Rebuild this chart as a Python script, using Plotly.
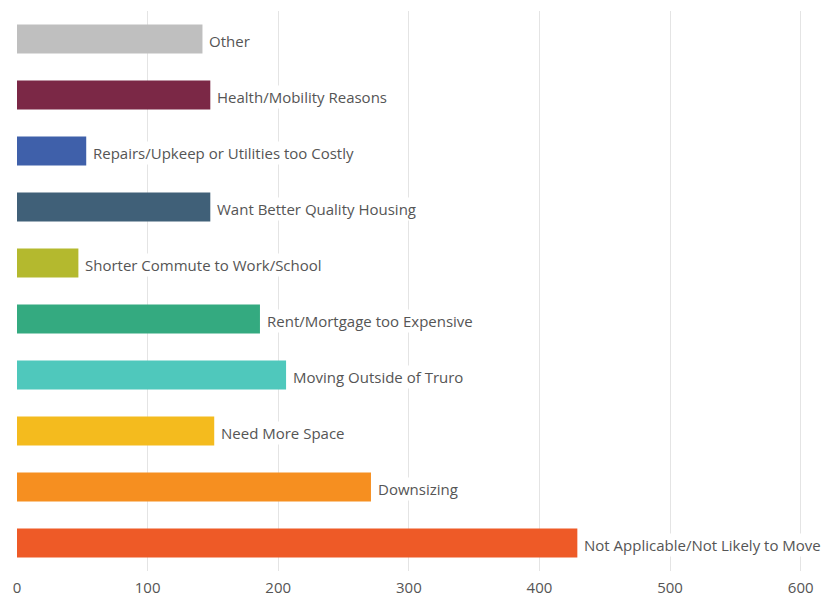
import plotly.graph_objects as go

categories = [
    "Not Applicable/Not Likely to Move",
    "Downsizing",
    "Need More Space",
    "Moving Outside of Truro",
    "Rent/Mortgage too Expensive",
    "Shorter Commute to Work/School",
    "Want Better Quality Housing",
    "Repairs/Upkeep or Utilities too Costly",
    "Health/Mobility Reasons",
    "Other",
]
values = [429, 271, 151, 206, 186, 47, 148, 53, 148, 142]
colors = [
    "#ee5a27", "#f68f20", "#f4bb1e", "#4fc8bc", "#34aa80",
    "#b4b92e", "#406078", "#3f60aa", "#7b2846", "#bfbfbf",
]
x_ticks = [0, 100, 200, 300, 400, 500, 600]

fig = go.Figure()
fig.add_trace(go.Bar(
    y=categories, x=values, orientation="h",
    marker=dict(color=colors, line=dict(width=0)),
    hoverinfo="x+y",
))

for c, v in zip(categories, values):
    fig.add_annotation(
        x=v, y=c, text=c, showarrow=False, xanchor="left", yanchor="middle",
        xshift=5, yshift=-2, bgcolor="white", borderpad=1,
        font=dict(family="Open Sans", size=15, color="#555555"),
    )

fig.update_layout(
    width=827, height=589,
    margin=dict(l=9, r=33, t=3, b=26),
    paper_bgcolor="white", plot_bgcolor="white",
    bargap=0.48, showlegend=False,
    xaxis=dict(
        range=[0, 601], tickvals=x_ticks, showgrid=True, gridcolor="#e4e4e4",
        gridwidth=1, zeroline=False, showline=False, ticks="",
        ticklabelstandoff=6, automargin=False,
        tickfont=dict(family="Open Sans", size=15, color="#555555"),
    ),
    yaxis=dict(
        showticklabels=False, showgrid=False, zeroline=False, showline=False,
        automargin=False,
        categoryorder="array", categoryarray=categories,
    ),
)

fig.write_html("out.html")
